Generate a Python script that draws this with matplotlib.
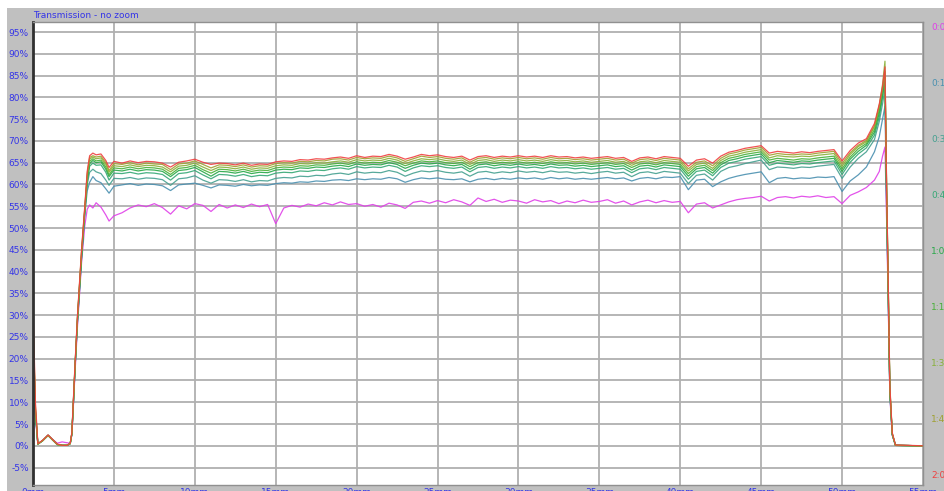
import matplotlib
matplotlib.use("Agg")
import matplotlib.pyplot as plt
from matplotlib.patches import Rectangle
import numpy as np

# ---------------- data ----------------
X_MM = [0.0, 0.15, 0.3, 0.6, 0.93, 1.2, 1.5, 1.8, 2.1, 2.3, 2.4, 2.5, 2.6, 2.75, 3.0, 3.2, 3.35, 3.5, 3.7, 3.9, 4.2, 4.5, 4.7,
        5.0, 5.5, 6.0, 6.5, 7.0, 7.5, 8.0, 8.5, 9.0, 9.5,
        10.0, 10.5, 11.0, 11.5, 12.0, 12.5, 13.0, 13.5, 14.0, 14.5,
        15.0, 15.5, 16.0, 16.5, 17.0, 17.5, 18.0, 18.5, 19.0, 19.5,
        20.0, 20.5, 21.0, 21.5, 22.0, 22.5, 23.0, 23.5, 24.0, 24.5,
        25.0, 25.5, 26.0, 26.5, 27.0, 27.5, 28.0, 28.5, 29.0, 29.5,
        30.0, 30.5, 31.0, 31.5, 32.0, 32.5, 33.0, 33.5, 34.0, 34.5,
        35.0, 35.5, 36.0, 36.5, 37.0, 37.5, 38.0, 38.5, 39.0, 39.5,
        40.0, 40.5, 41.0, 41.5, 42.0, 42.5, 43.0, 43.5, 44.0, 44.5,
        45.0, 45.5, 46.0, 46.5, 47.0, 47.5, 48.0, 48.5, 49.0, 49.5,
        50.0,
        50.5, 51.0, 51.5, 52.0, 52.3, 52.5, 52.65, 52.75, 52.85, 52.95, 53.1, 53.3, 55.0]

T_0000 = [22.0, 6.5, 0.4, 1.2, 2.4, 1.5, 0.6, 0.9, 0.7, 0.6, 2.5, 9.5, 17.0, 27.5, 42.0, 50.5, 54.3, 55.3, 54.6, 55.8, 54.8, 53.0, 51.6,
          52.8, 53.5, 54.6, 55.3, 54.9, 55.6, 54.7, 53.2, 55.1, 54.4,
          55.6, 55.2, 53.8, 55.4, 54.6, 55.3, 54.7, 55.5, 54.9, 55.4,
          51.0, 54.6, 55.2, 54.8, 55.5, 55.1, 55.8, 55.3, 56.0, 55.4,
          55.6, 55.0, 55.4, 54.8, 55.7, 55.3, 54.5, 55.9, 56.2, 55.7,
          56.3, 55.8, 56.5, 56.0, 55.2, 56.9, 56.1, 56.6, 55.9, 56.4,
          56.2, 55.7, 56.5, 56.0, 56.3, 55.6, 56.2, 55.8, 56.4, 55.9,
          56.1, 56.5, 55.7, 56.2, 55.3, 56.0, 56.4, 55.8, 56.3, 55.9,
          56.1, 53.5, 55.5, 55.8, 54.6, 55.3, 56.0, 56.5, 56.8, 57.0,
          57.3, 56.2, 57.0, 57.2, 56.9, 57.3, 57.1, 57.4, 57.0, 57.2,
          55.6,
          57.5, 58.3, 59.3, 61.0, 63.0, 66.5, 68.6, 52.0, 33.0, 11.5, 2.4, 0.1, 0.0]

T_0015 = [24.0, 7.0, 0.4, 1.2, 2.4, 1.4, 0.3, 0.1, 0.1, 0.5, 2.6, 10.0, 18.0, 28.5, 43.0, 53.0, 58.5, 60.5, 61.8, 60.9, 60.4, 59.0, 58.0,
          59.6, 59.9, 60.2, 59.8, 60.1, 60.0, 59.7, 58.6, 59.9, 60.1,
          60.3, 59.8, 59.2, 59.9, 59.8, 59.6, 60.0, 59.7, 59.9, 59.8,
          60.2, 60.4, 60.3, 60.6, 60.5, 60.8, 60.7, 61.0, 61.1, 60.9,
          61.3, 61.1, 61.3, 61.2, 61.6, 61.3, 60.5, 61.1, 61.5, 61.3,
          61.5, 61.2, 61.1, 61.3, 60.6, 61.2, 61.4, 61.1, 61.4, 61.2,
          61.5, 61.3, 61.5, 61.2, 61.6, 61.3, 61.5, 61.2, 61.4, 61.2,
          61.4, 61.6, 61.3, 61.5, 60.8, 61.4, 61.6, 61.3, 61.7, 61.6,
          61.8, 58.8, 61.0, 61.2, 59.5, 60.6, 61.4, 61.9, 62.3, 62.6,
          62.9, 60.4, 61.4, 61.6, 61.3, 61.5, 61.4, 61.7, 61.6, 61.8,
          58.4,
          60.8, 62.2, 64.0, 67.5, 71.0, 75.0, 78.0, 55.0, 34.0, 12.0, 2.5, 0.1, 0.0]

T_0030 = [25.0, 7.5, 0.4, 1.2, 2.4, 1.4, 0.3, 0.1, 0.1, 0.5, 2.7, 10.0, 18.0, 28.5, 43.0, 53.5, 60.0, 62.8, 63.5, 62.9, 62.5, 61.0, 59.8,
          61.4, 61.3, 61.6, 61.2, 61.5, 61.4, 61.1, 59.8, 61.3, 61.5,
          62.0, 61.0, 60.3, 61.1, 61.0, 60.7, 61.1, 60.6, 60.9, 60.8,
          61.4, 61.6, 61.5, 61.9, 61.8, 62.1, 62.0, 62.4, 62.6, 62.3,
          62.9, 62.6, 62.8, 62.7, 63.2, 62.8, 61.9, 62.6, 63.1, 62.9,
          63.2, 62.8, 62.6, 62.9, 61.9, 62.8, 63.0, 62.6, 62.9, 62.7,
          63.1, 62.8, 63.0, 62.7, 63.1, 62.8, 62.9, 62.6, 62.8, 62.5,
          62.8, 63.0, 62.6, 62.8, 61.8, 62.7, 62.9, 62.5, 63.0, 62.8,
          62.6, 60.2, 62.1, 62.4, 61.0, 63.0, 63.9, 64.3, 64.8, 65.2,
          65.6, 63.4, 64.0, 63.9, 63.7, 64.0, 63.9, 64.2, 64.4, 64.6,
          61.4,
          64.0, 66.0, 67.5, 70.3, 74.5, 78.5, 82.0, 56.0, 35.0, 12.5, 2.6, 0.1, 0.0]

T_0045 = [26.0, 7.5, 0.4, 1.2, 2.4, 1.4, 0.3, 0.1, 0.1, 0.5, 2.7, 10.0, 18.0, 29.0, 43.5, 53.5, 60.5, 64.2, 64.9, 64.4, 64.5, 62.8, 61.0,
          62.6, 62.5, 62.8, 62.4, 62.7, 62.6, 62.3, 61.0, 62.5, 62.7,
          63.2, 62.2, 61.3, 62.3, 62.2, 61.9, 62.3, 61.8, 62.1, 62.0,
          62.6, 62.8, 62.7, 63.1, 63.0, 63.3, 63.2, 63.6, 63.8, 63.5,
          64.1, 63.8, 64.0, 63.9, 64.4, 64.0, 63.0, 63.8, 64.3, 64.1,
          64.3, 63.9, 63.7, 64.0, 62.9, 63.9, 64.1, 63.7, 64.0, 63.8,
          64.1, 63.8, 64.0, 63.7, 64.1, 63.8, 63.9, 63.6, 63.8, 63.5,
          63.7, 63.9, 63.5, 63.7, 62.7, 63.6, 63.8, 63.4, 63.9, 63.7,
          63.5, 61.2, 63.0, 63.3, 62.0, 63.9, 64.9, 65.3, 65.8, 66.1,
          66.4, 64.4, 64.9, 64.7, 64.5, 64.8, 64.7, 65.0, 65.2, 65.4,
          62.3,
          65.1, 67.0, 68.4, 71.3, 75.5, 80.0, 84.0, 57.0, 35.5, 12.5, 2.6, 0.1, 0.0]

T_0100 = [27.0, 8.0, 0.4, 1.2, 2.4, 1.4, 0.3, 0.1, 0.1, 0.5, 2.7, 10.0, 18.0, 29.0, 43.5, 54.0, 61.0, 64.8, 65.5, 65.0, 65.2, 63.5, 61.8,
          63.3, 63.1, 63.5, 63.1, 63.4, 63.3, 63.0, 61.8, 63.2, 63.4,
          63.9, 62.9, 61.9, 63.0, 62.9, 62.6, 63.0, 62.5, 62.8, 62.7,
          63.3, 63.5, 63.4, 63.8, 63.7, 64.0, 63.9, 64.2, 64.4, 64.1,
          64.7, 64.4, 64.6, 64.5, 65.0, 64.6, 63.7, 64.4, 64.9, 64.7,
          64.9, 64.5, 64.3, 64.6, 63.5, 64.5, 64.7, 64.3, 64.6, 64.4,
          64.7, 64.4, 64.6, 64.3, 64.7, 64.4, 64.5, 64.2, 64.4, 64.1,
          64.3, 64.5, 64.1, 64.3, 63.3, 64.2, 64.4, 64.0, 64.5, 64.3,
          64.1, 61.9, 63.6, 63.9, 62.6, 64.5, 65.5, 65.9, 66.4, 66.7,
          67.0, 65.0, 65.5, 65.3, 65.1, 65.4, 65.3, 65.6, 65.8, 66.0,
          63.0,
          65.8, 67.6, 69.0, 72.0, 76.5, 80.5, 85.0, 58.0, 36.0, 13.0, 2.7, 0.1, 0.0]

T_0115 = [28.0, 8.0, 0.4, 1.2, 2.4, 1.4, 0.3, 0.1, 0.1, 0.5, 2.8, 10.5, 18.5, 29.5, 44.0, 54.0, 61.5, 65.3, 65.9, 65.4, 65.6, 64.0, 62.2,
          63.8, 63.6, 64.0, 63.6, 63.9, 63.8, 63.5, 62.3, 63.7, 63.9,
          64.4, 63.4, 62.6, 63.5, 63.4, 63.1, 63.5, 63.0, 63.3, 63.2,
          63.8, 64.0, 63.9, 64.3, 64.2, 64.5, 64.4, 64.7, 64.9, 64.6,
          65.2, 64.9, 65.1, 65.0, 65.5, 65.1, 64.3, 64.9, 65.4, 65.2,
          65.4, 65.0, 64.8, 65.1, 64.1, 65.0, 65.2, 64.8, 65.1, 64.9,
          65.2, 64.9, 65.1, 64.8, 65.2, 64.9, 65.0, 64.7, 64.9, 64.6,
          64.8, 65.0, 64.6, 64.8, 63.9, 64.7, 64.9, 64.5, 65.0, 64.8,
          64.6, 62.5, 64.1, 64.4, 63.2, 65.0, 66.0, 66.4, 66.9, 67.2,
          67.5, 65.6, 66.0, 65.8, 65.6, 65.9, 65.8, 66.1, 66.3, 66.5,
          63.6,
          66.3, 68.2, 69.4, 72.6, 77.2, 81.5, 85.8, 59.0, 37.0, 13.0, 2.7, 0.1, 0.0]

T_0130 = [29.0, 8.5, 0.4, 1.2, 2.4, 1.4, 0.3, 0.1, 0.1, 0.5, 2.8, 10.5, 18.5, 29.5, 44.5, 54.5, 62.0, 65.8, 66.3, 65.9, 66.1, 64.6, 62.8,
          64.3, 64.1, 64.5, 64.1, 64.4, 64.3, 64.0, 62.9, 64.2, 64.4,
          64.9, 64.0, 63.2, 64.0, 63.9, 63.6, 64.0, 63.5, 63.8, 63.7,
          64.3, 64.5, 64.4, 64.8, 64.7, 65.0, 64.9, 65.2, 65.4, 65.1,
          65.7, 65.4, 65.6, 65.5, 66.0, 65.6, 64.8, 65.4, 65.9, 65.7,
          65.9, 65.5, 65.3, 65.6, 64.6, 65.5, 65.7, 65.3, 65.6, 65.4,
          65.7, 65.4, 65.6, 65.3, 65.7, 65.4, 65.5, 65.2, 65.4, 65.1,
          65.3, 65.5, 65.1, 65.3, 64.4, 65.2, 65.4, 65.0, 65.5, 65.3,
          65.1, 63.1, 64.6, 64.9, 63.7, 65.5, 66.5, 66.9, 67.4, 67.7,
          68.0, 66.1, 66.6, 66.4, 66.3, 66.5, 66.4, 66.7, 66.9, 67.1,
          64.2,
          66.9, 68.7, 69.8, 73.2, 78.2, 83.0, 88.3, 60.0, 37.5, 13.5, 2.8, 0.1, 0.0]

T_0145 = [30.0, 9.0, 0.4, 1.2, 2.4, 1.4, 0.3, 0.1, 0.1, 0.5, 2.8, 10.5, 18.5, 29.5, 44.5, 54.5, 62.5, 66.2, 66.6, 66.3, 66.5, 65.0, 63.2,
          64.8, 64.6, 65.0, 64.5, 64.9, 64.7, 64.6, 63.4, 64.7, 64.9,
          65.4, 64.6, 63.8, 64.5, 64.4, 64.1, 64.5, 64.0, 64.3, 64.2,
          64.8, 65.0, 64.9, 65.3, 65.2, 65.5, 65.4, 65.8, 65.9, 65.6,
          66.2, 65.9, 66.1, 66.0, 66.5, 66.1, 65.3, 65.9, 66.5, 66.2,
          66.4, 66.0, 65.8, 66.1, 65.1, 66.0, 66.2, 65.8, 66.1, 65.9,
          66.2, 65.9, 66.1, 65.8, 66.2, 65.9, 66.0, 65.7, 65.9, 65.6,
          65.8, 66.0, 65.6, 65.8, 64.9, 65.7, 65.9, 65.5, 66.0, 65.8,
          65.6, 63.6, 65.1, 65.4, 64.3, 66.0, 67.0, 67.4, 67.9, 68.2,
          68.5, 66.7, 67.1, 66.9, 66.8, 67.0, 66.9, 67.2, 67.4, 67.6,
          64.8,
          67.3, 69.0, 70.1, 73.5, 78.0, 82.0, 86.0, 59.0, 37.0, 13.5, 2.8, 0.1, 0.0]

T_0200 = [33.0, 10.0, 0.5, 1.3, 2.5, 1.5, 0.4, 0.1, 0.1, 0.6, 3.0, 11.0, 19.0, 30.0, 45.0, 55.0, 63.0, 66.6, 67.2, 66.8, 67.0, 65.5, 63.9,
          65.3, 64.9, 65.4, 65.0, 65.3, 65.2, 64.9, 64.0, 65.1, 65.4,
          65.8, 65.1, 64.6, 64.9, 64.8, 64.5, 64.9, 64.4, 64.7, 64.6,
          65.2, 65.4, 65.3, 65.7, 65.6, 65.9, 65.8, 66.1, 66.3, 66.0,
          66.6, 66.2, 66.5, 66.4, 66.9, 66.5, 65.8, 66.3, 66.9, 66.6,
          66.8, 66.4, 66.2, 66.5, 65.6, 66.4, 66.6, 66.2, 66.5, 66.3,
          66.6, 66.3, 66.5, 66.2, 66.6, 66.3, 66.4, 66.1, 66.3, 66.0,
          66.2, 66.4, 66.0, 66.2, 65.3, 66.1, 66.3, 65.9, 66.4, 66.2,
          66.0, 64.2, 65.6, 65.9, 64.9, 66.5, 67.4, 67.8, 68.3, 68.6,
          68.9, 67.2, 67.6, 67.4, 67.2, 67.5, 67.3, 67.6, 67.8, 68.0,
          65.4,
          67.8, 69.5, 70.5, 74.0, 78.5, 82.5, 87.0, 60.0, 38.0, 14.0, 3.0, 0.2, 0.0]

TIME_LABELS = ["0:00", "0:15", "0:30", "0:45", "1:00", "1:15", "1:30", "1:45", "2:00"]
SERIES = [T_0000, T_0015, T_0030, T_0045, T_0100, T_0115, T_0130, T_0145, T_0200]
COLORS = ["#e040e8", "#4a90b0", "#45a090", "#35a875", "#28a848", "#48b038", "#88b038", "#a0a030", "#f04040"]

Y_TICKS = list(range(-5, 100, 5))
X_TICKS = list(range(0, 60, 5))

# ---------------- figure ----------------
W, H = 945, 491
fig = plt.figure(figsize=(W / 100, H / 100), dpi=100, facecolor="white")
fig.patches.append(Rectangle((7 / W, 0), 1 - 7 / W, 1 - 8 / H, transform=fig.transFigure,
                             facecolor="#c0c0c0", edgecolor="none", zorder=-10))

L, R, T, B = 33, 923, 22, 485
ax = fig.add_axes([L / W, 1 - B / H, (R - L) / W, (B - T) / H])
ax.set_zorder(1)
ax.set_facecolor("white")

for ys, c in zip(SERIES, COLORS):
    ax.plot(X_MM, ys, color=c, lw=0.9, alpha=0.9, solid_joinstyle="round")

ax.set_xlim(0, 55)
ax.set_ylim(-9.0, 97.3)
ax.set_xticks(X_TICKS)
ax.set_xticklabels([f"{v}mm" for v in X_TICKS])
ax.set_yticks(Y_TICKS)
ax.set_yticklabels([f"{v}%" for v in Y_TICKS])
ax.tick_params(axis="both", length=0, labelsize=6.5, labelcolor="#3434e8")
ax.tick_params(axis="y", pad=3)
ax.tick_params(axis="x", pad=2)
ax.grid(True, color="#b0b0b0", lw=1.3)
ax.set_axisbelow(True)

for side in ["top", "right", "bottom"]:
    ax.spines[side].set_color("#909090")
    ax.spines[side].set_linewidth(1.0)
ax.spines["left"].set_color("#303030")
ax.spines["left"].set_linewidth(2.0)

# title
fig.text(L / W, 1 - 15.5 / H, "Transmission - no zoom", color="#3434e8", fontsize=6.5,
         ha="left", va="center")

# time colour legend on the right
y_first, y_last = 27, 476
for i, (lab, c) in enumerate(zip(TIME_LABELS, COLORS)):
    ypix = y_first + (y_last - y_first) * i / (len(TIME_LABELS) - 1)
    fig.text(931 / W, 1 - ypix / H, lab, color=c, fontsize=6.5, ha="left", va="center")

fig.savefig("out.png", dpi=100, facecolor=fig.get_facecolor())
